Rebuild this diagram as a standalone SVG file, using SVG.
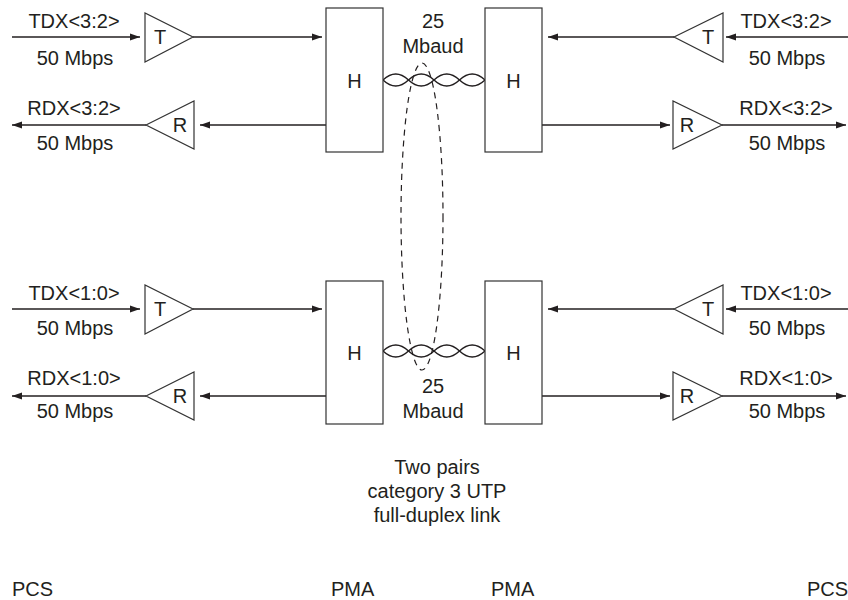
<svg xmlns="http://www.w3.org/2000/svg" width="848" height="600" viewBox="0 0 848 600">
<style>
text{font-family:"Liberation Sans",Arial,sans-serif;font-size:20px;fill:#231f20;text-anchor:middle}
.shape{fill:#fff;stroke:#333;stroke-width:1.2}
.wire{fill:none;stroke:#231f20;stroke-width:1.3}
.twist{fill:none;stroke:#231f20;stroke-width:1.4}
.dash{fill:none;stroke:#231f20;stroke-width:1.2;stroke-dasharray:6 5}
.l{text-anchor:start}
</style>
<defs>
<marker id="ah" markerUnits="userSpaceOnUse" markerWidth="10" markerHeight="8" refX="10" refY="4" orient="auto">
<path d="M0,0.5 L10,4 L0,7.5 z" fill="#231f20"/>
</marker>
</defs>
<rect width="848" height="600" fill="#fff"/>

<g id="connectors">
<line class="wire" x1="12" y1="37" x2="140" y2="37" marker-end="url(#ah)"/>
<line class="wire" x1="193" y1="37" x2="322" y2="37" marker-end="url(#ah)"/>
<line class="wire" x1="326" y1="125" x2="200" y2="125" marker-end="url(#ah)"/>
<line class="wire" x1="146" y1="125" x2="12" y2="125" marker-end="url(#ah)"/>
<line class="wire" x1="848" y1="37" x2="726" y2="37" marker-end="url(#ah)"/>
<line class="wire" x1="674" y1="37" x2="548" y2="37" marker-end="url(#ah)"/>
<line class="wire" x1="542" y1="125" x2="670" y2="125" marker-end="url(#ah)"/>
<line class="wire" x1="722" y1="125" x2="846" y2="125" marker-end="url(#ah)"/>
<line class="wire" x1="12" y1="309" x2="140" y2="309" marker-end="url(#ah)"/>
<line class="wire" x1="193" y1="309" x2="322" y2="309" marker-end="url(#ah)"/>
<line class="wire" x1="326" y1="396" x2="200" y2="396" marker-end="url(#ah)"/>
<line class="wire" x1="146" y1="396" x2="12" y2="396" marker-end="url(#ah)"/>
<line class="wire" x1="848" y1="309" x2="726" y2="309" marker-end="url(#ah)"/>
<line class="wire" x1="674" y1="309" x2="548" y2="309" marker-end="url(#ah)"/>
<line class="wire" x1="542" y1="396" x2="670" y2="396" marker-end="url(#ah)"/>
<line class="wire" x1="722" y1="396" x2="846" y2="396" marker-end="url(#ah)"/>
<path class="twist" d="M383,80 Q395.75,68 408.5,80 T434,80 T459.5,80 T485,80"/>
<path class="twist" d="M383,80 Q395.75,92 408.5,80 T434,80 T459.5,80 T485,80"/>
<path class="twist" d="M383,351 Q395.75,339 408.5,351 T434,351 T459.5,351 T485,351"/>
<path class="twist" d="M383,351 Q395.75,363 408.5,351 T434,351 T459.5,351 T485,351"/>
<ellipse class="dash" cx="422" cy="216.5" rx="21" ry="153.5"/>
</g>

<g id="tx-top-left"><polygon class="shape" points="145,13 145,62 193,37"/><text x="160" y="44">T</text></g>
<g id="rx-top-left"><polygon class="shape" points="146,125 194,101 194,149"/><text x="180" y="132">R</text></g>
<g id="h-top-left"><rect class="shape" x="326" y="8" width="57" height="144"/><text x="354.5" y="88">H</text></g>
<g id="h-top-right"><rect class="shape" x="485" y="8" width="57" height="144"/><text x="513.5" y="88">H</text></g>
<g id="tx-top-right"><polygon class="shape" points="674,37 723,13 723,62"/><text x="708" y="44">T</text></g>
<g id="rx-top-right"><polygon class="shape" points="673,101 673,149 722,125"/><text x="687" y="132">R</text></g>

<g id="tx-bot-left"><polygon class="shape" points="145,285 145,334 193,309"/><text x="160" y="316">T</text></g>
<g id="rx-bot-left"><polygon class="shape" points="146,396 194,372 194,420"/><text x="180" y="403">R</text></g>
<g id="h-bot-left"><rect class="shape" x="326" y="281" width="57" height="143"/><text x="354.5" y="360">H</text></g>
<g id="h-bot-right"><rect class="shape" x="485" y="281" width="57" height="143"/><text x="513.5" y="360">H</text></g>
<g id="tx-bot-right"><polygon class="shape" points="674,309 723,285 723,334"/><text x="708" y="316">T</text></g>
<g id="rx-bot-right"><polygon class="shape" points="673,372 673,420 722,396"/><text x="687" y="403">R</text></g>

<g id="labels">
<text x="74" y="28">TDX&lt;3:2&gt;</text>
<text x="75" y="65">50 Mbps</text>
<text x="74" y="115">RDX&lt;3:2&gt;</text>
<text x="75" y="150">50 Mbps</text>
<text x="786" y="28">TDX&lt;3:2&gt;</text>
<text x="787" y="65">50 Mbps</text>
<text x="786" y="115">RDX&lt;3:2&gt;</text>
<text x="787" y="150">50 Mbps</text>

<text x="74" y="300">TDX&lt;1:0&gt;</text>
<text x="75" y="335">50 Mbps</text>
<text x="74" y="385">RDX&lt;1:0&gt;</text>
<text x="75" y="418">50 Mbps</text>
<text x="786" y="300">TDX&lt;1:0&gt;</text>
<text x="787" y="335">50 Mbps</text>
<text x="786" y="385">RDX&lt;1:0&gt;</text>
<text x="787" y="418">50 Mbps</text>

<text x="433" y="28">25</text>
<text x="433" y="53">Mbaud</text>
<text x="433" y="393">25</text>
<text x="433" y="418">Mbaud</text>

<text x="437" y="474">Two pairs</text>
<text x="437" y="498">category 3 UTP</text>
<text x="437" y="522">full-duplex link</text>

<text class="l" x="12" y="596">PCS</text>
<text class="l" x="331" y="596">PMA</text>
<text class="l" x="491" y="596">PMA</text>
<text class="l" x="807" y="596">PCS</text>
</g>
</svg>
